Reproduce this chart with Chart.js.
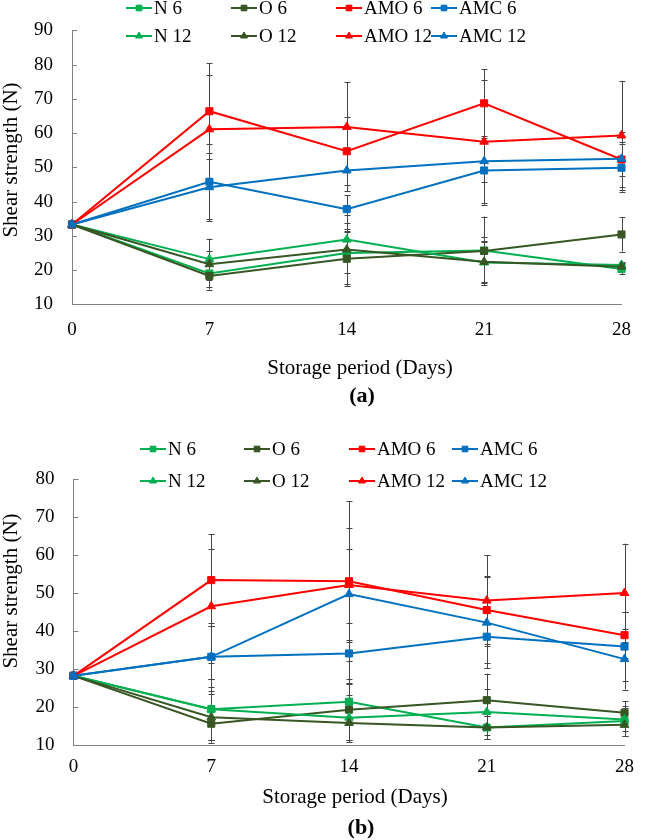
<!DOCTYPE html>
<html>
<head>
<meta charset="utf-8">
<script src="https://cdn.jsdelivr.net/npm/chart.js@4.4.1/dist/chart.umd.min.js"></script>
<style>
  html, body { margin: 0; padding: 0; background: #fff; }
  #wrap { position: relative; width: 645px; height: 840px; }
  canvas { position: absolute; left: 0; }
</style>
</head>
<body>
<div id="wrap">
  <canvas id="chartA" width="645" height="420" style="top:0"></canvas>
  <canvas id="chartB" width="645" height="420" style="top:420px"></canvas>
</div>
<script>
// storage days (x axis)
const days = ['0', '7', '14', '21', '28'];
const seriesNames = ['N 6', 'O 6', 'AMO 6', 'AMC 6', 'N 12', 'O 12', 'AMO 12', 'AMC 12'];
const seriesColors = ['#00B050', '#375623', '#FF0000', '#0070C0', '#00B050', '#375623', '#FF0000', '#0070C0'];
const seriesMarkers = ['rect', 'rect', 'rect', 'rect', 'triangle', 'triangle', 'triangle', 'triangle'];

// (a) shear strength means
const aN6 = [33.3, 19.0, 25.0, 25.7, 20.3];
const aO6 = [33.3, 18.3, 23.3, 25.6, 30.4];
const aAMO6 = [33.3, 66.4, 54.7, 68.7, 52.3];
const aAMC6 = [33.3, 45.8, 37.8, 49.1, 49.9];
const aN12 = [33.3, 23.2, 28.9, 22.2, 21.5];
const aO12 = [33.3, 21.7, 26.0, 22.4, 21.0];
const aAMO12 = [33.3, 61.1, 61.8, 57.5, 59.3];
const aAMC12 = [33.3, 44.2, 49.1, 51.8, 52.5];
// (a) error bars
const aN6sd = [0.5, 4, 6, 4, 1.5];
const aO6sd = [0.5, 4, 8, 10, 5];
const aAMO6sd = [0.5, 14, 10, 10, 8];
const aAMC6sd = [0.5, 11, 4, 10, 7];
const aN12sd = [0.5, 6, 3, 6, 1];
const aO12sd = [0.5, 4, 10, 6, 1];
const aAMO12sd = [0.5, 16, 13, 18, 16];
const aAMC12sd = [0.5, 10, 6, 6, 5];

// (b) shear strength means
const bN6 = [28.2, 19.4, 21.4, 14.6, 16.3];
const bO6 = [28.2, 15.6, 19.3, 21.8, 18.5];
const bAMO6 = [28.2, 53.4, 53.1, 45.5, 38.9];
const bAMC6 = [28.2, 33.2, 34.1, 38.5, 35.9];
const bN12 = [28.2, 19.4, 17.2, 18.7, 16.7];
const bO12 = [28.2, 17.3, 15.8, 14.6, 15.3];
const bAMO12 = [28.2, 46.5, 52.1, 48.0, 50.0];
const bAMC12 = [28.2, 33.2, 49.7, 42.2, 32.6];
// (b) error bars
const bN6sd = [0.5, 8, 5, 3, 4];
const bO6sd = [0.5, 5, 8, 7, 3];
const bAMO6sd = [0.5, 12, 21, 9, 6];
const bAMC6sd = [0.5, 8, 8, 7, 9];
const bN12sd = [0.5, 8, 6, 6, 3];
const bO12sd = [0.5, 6, 5, 3, 3];
const bAMO12sd = [0.5, 15, 15, 12, 13];
const bAMC12sd = [0.5, 9, 12, 12, 8];

const meansA = [aN6, aO6, aAMO6, aAMC6, aN12, aO12, aAMO12, aAMC12];
const sdsA = [aN6sd, aO6sd, aAMO6sd, aAMC6sd, aN12sd, aO12sd, aAMO12sd, aAMC12sd];
const meansB = [bN6, bO6, bAMO6, bAMC6, bN12, bO12, bAMO12, bAMC12];
const sdsB = [bN6sd, bO6sd, bAMO6sd, bAMC6sd, bN12sd, bO12sd, bAMO12sd, bAMC12sd];

const serif = '"Liberation Serif", "Times New Roman", serif';
Chart.defaults.font.family = serif;
Chart.defaults.font.size = 19;
Chart.defaults.color = '#000';

// error bars, inner y ticks, legend and titles
const extras = {
  id: 'extras',
  beforeDatasetsDraw(chart) {
    const ctx = chart.ctx, y = chart.scales.y, area = chart.chartArea;
    ctx.save();
    ctx.beginPath();
    ctx.rect(area.left - 5, area.top - 5, area.right - area.left + 10, area.bottom - area.top + 5);
    ctx.clip();
    ctx.strokeStyle = '#444';
    ctx.lineWidth = 1;
    chart.data.datasets.forEach((ds, i) => {
      chart.getDatasetMeta(i).data.forEach((pt, j) => {
        const top = y.getPixelForValue(ds.data[j] + ds.sd[j]);
        const bot = y.getPixelForValue(ds.data[j] - ds.sd[j]);
        const x = Math.round(pt.x) + 0.5;
        ctx.beginPath();
        ctx.moveTo(x, top); ctx.lineTo(x, bot);
        ctx.moveTo(x - 3, Math.round(top) + 0.5); ctx.lineTo(x + 3, Math.round(top) + 0.5);
        ctx.moveTo(x - 3, Math.round(bot) + 0.5); ctx.lineTo(x + 3, Math.round(bot) + 0.5);
        ctx.stroke();
      });
    });
    ctx.restore();
  },
  afterDraw(chart, args, opts) {
    const ctx = chart.ctx, y = chart.scales.y, area = chart.chartArea;
    ctx.save();
    // small inward ticks on y axis
    ctx.strokeStyle = '#808080';
    ctx.lineWidth = 1;
    y.ticks.forEach(t => {
      const py = Math.round(y.getPixelForValue(t.value)) + 0.5;
      ctx.beginPath();
      ctx.moveTo(area.left, py);
      ctx.lineTo(area.left + 5, py);
      ctx.stroke();
    });
    // legend, two rows of four
    ctx.font = '19px ' + serif;
    ctx.textBaseline = 'middle';
    ctx.textAlign = 'left';
    chart.data.datasets.forEach((ds, i) => {
      const lx = opts.legendX[i % 4], ly = opts.legendY[Math.floor(i / 4)];
      ctx.strokeStyle = ds.borderColor;
      ctx.fillStyle = ds.borderColor;
      ctx.lineWidth = 2;
      ctx.beginPath();
      ctx.moveTo(lx, ly); ctx.lineTo(lx + 26, ly);
      ctx.stroke();
      ctx.lineWidth = 1;
      Chart.helpers.drawPoint(ctx, { pointStyle: ds.pointStyle, radius: 4, borderWidth: 1, rotation: 0 }, lx + 13, ly);
      ctx.fillStyle = '#000';
      ctx.fillText(ds.label, lx + 28, ly + 1);
    });
    // axis titles and panel caption
    ctx.textAlign = 'center';
    ctx.font = '21px ' + serif;
    ctx.fillText('Storage period (Days)', opts.xTitle[0], opts.xTitle[1]);
    ctx.font = 'bold 22px ' + serif;
    ctx.fillText(opts.caption, opts.capPos[0], opts.capPos[1]);
    ctx.translate(opts.yTitle[0], opts.yTitle[1]);
    ctx.rotate(-Math.PI / 2);
    ctx.font = '21px ' + serif;
    ctx.fillText('Shear strength (N)', 0, 0);
    ctx.restore();
  }
};

function buildDatasets(means, sds) {
  return means.map((vals, i) => ({
    label: seriesNames[i],
    data: vals,
    sd: sds[i],
    borderColor: seriesColors[i],
    backgroundColor: seriesColors[i],
    pointBackgroundColor: seriesColors[i],
    pointBorderColor: seriesColors[i],
    pointStyle: seriesMarkers[i],
    pointRadius: 5,
    pointBorderWidth: 1,
    borderWidth: 2,
    tension: 0,
    order: -i
  }));
}

function makeChart(id, means, sds, cfg) {
  return new Chart(document.getElementById(id), {
    type: 'line',
    data: { labels: days, datasets: buildDatasets(means, sds) },
    plugins: [extras],
    options: {
      responsive: false,
      animation: false,
      layout: { padding: { left: 0, right: cfg.padRight, top: cfg.padTop, bottom: 0 } },
      plugins: {
        legend: { display: false },
        tooltip: { enabled: false },
        extras: cfg.extras
      },
      scales: {
        x: {
          grid: { display: false, drawTicks: false },
          border: { display: true, color: '#808080', width: 1 },
          ticks: { padding: cfg.xPad, maxRotation: 0, autoSkip: false, color: '#000' },
          afterFit: s => { s.height = cfg.xHeight; }
        },
        y: {
          min: cfg.yMin, max: cfg.yMax,
          grid: { display: false, drawTicks: false },
          border: { display: true, color: '#808080', width: 1 },
          ticks: { stepSize: 10, padding: 19, color: '#000' },
          afterFit: s => { s.width = cfg.yWidth; }
        }
      }
    }
  });
}

makeChart('chartA', meansA, sdsA, {
  yMin: 10, yMax: 90, padTop: 27.7, padRight: 13, xHeight: 115.7, yWidth: 72, xPad: 14,
  extras: {
    legendX: [126, 231, 336, 431], legendY: [8, 36],
    xTitle: [360, 368], caption: '(a)', capPos: [362, 396], yTitle: [11, 160]
  }
});

makeChart('chartB', meansB, sdsB, {
  yMin: 10, yMax: 80, padTop: 59, padRight: 9, xHeight: 95, yWidth: 73.5, xPad: 11,
  extras: {
    legendX: [140, 244, 349, 452], legendY: [29, 61],
    xTitle: [355, 377], caption: '(b)', capPos: [361, 408], yTitle: [11, 171]
  }
});
</script>
</body>
</html>
